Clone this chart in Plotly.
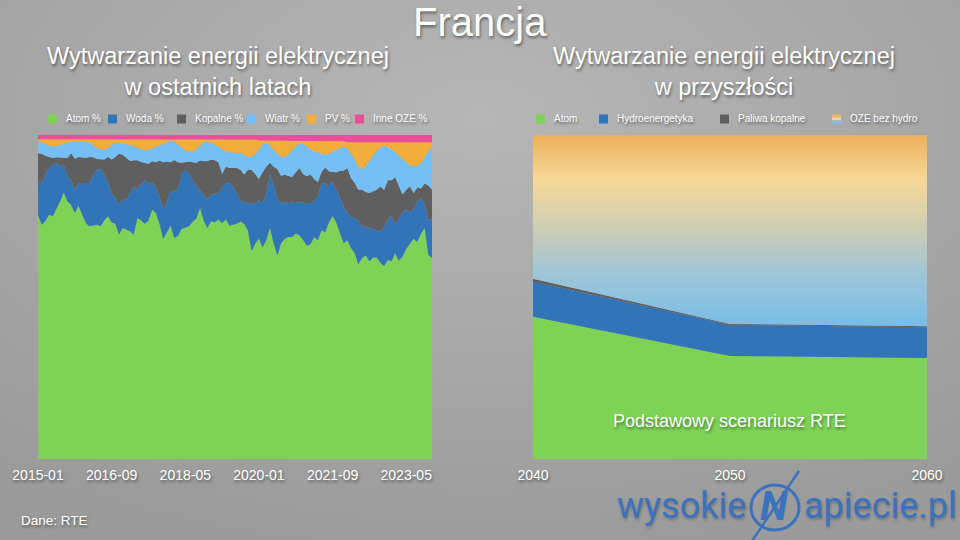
import base64
import pandas as pd
import plotly.graph_objects as go

# ---------------- data ----------------
months = list(pd.date_range("2015-01-01", periods=108, freq="MS").strftime("%Y-%m"))
tick_labels = ["2015-01", "2016-09", "2018-05", "2020-01", "2021-09", "2023-05"]

atom = [75.4, 72.3, 73.4, 75.4, 74.9, 77.0, 79.5, 82.3, 79.5, 78.5, 75.9, 78.2,
        75.4, 72.8, 71.8, 72.0, 72.3, 71.8, 73.6, 74.9, 73.0, 72.6, 69.2, 71.3,
        70.8, 70.3, 69.2, 74.4, 73.6, 72.6, 73.5, 76.9, 75.9, 72.5, 67.9, 69.8,
        72.0, 68.2, 68.8, 71.0, 71.5, 71.8, 73.2, 74.2, 77.5, 73.5, 71.3, 73.4,
        73.0, 73.9, 72.8, 73.9, 72.0, 72.3, 72.6, 73.3, 72.5, 70.5, 64.1, 66.5,
        68.0, 65.3, 67.5, 71.3, 66.5, 62.8, 66.5, 67.9, 68.5, 68.5, 69.6, 69.0,
        67.6, 65.8, 66.3, 68.5, 67.5, 70.5, 70.0, 73.0, 75.0, 73.0, 69.5, 66.5,
        67.5, 65.1, 63.6, 60.0, 62.0, 62.8, 61.0, 62.2, 62.2, 60.6, 59.5, 61.4,
        61.0, 63.5, 61.2, 62.5, 64.8, 66.5, 68.0, 67.0, 69.5, 71.3, 63.0, 62.0]
woda = [10.8, 12.4, 14.4, 14.4, 15.9, 14.4, 10.8, 8.5, 7.7, 7.7, 7.2, 7.0,
        9.3, 12.4, 13.4, 15.8, 17.0, 17.7, 14.2, 10.5, 9.1, 8.0, 9.3, 8.7,
        9.2, 11.8, 15.0, 8.7, 11.3, 13.4, 11.5, 8.6, 7.9, 8.5, 9.4, 9.4,
        10.9, 14.2, 14.7, 17.0, 17.8, 16.4, 12.8, 10.0, 5.5, 8.1, 8.7, 8.2,
        9.0, 8.0, 11.2, 11.3, 13.0, 11.7, 9.4, 6.2, 7.2, 8.1, 14.9, 12.1,
        12.0, 13.5, 14.5, 16.5, 18.0, 17.2, 12.5, 11.6, 10.3, 11.0, 9.4, 10.3,
        11.6, 12.8, 12.7, 11.0, 13.5, 14.7, 15.0, 11.2, 10.7, 10.0, 11.3, 11.5,
        8.6, 9.6, 10.8, 13.6, 10.0, 8.7, 10.3, 8.7, 8.3, 9.5, 12.1, 12.4,
        14.2, 9.0, 12.8, 13.5, 12.4, 9.5, 9.3, 12.3, 11.1, 7.5, 10.8, 12.0]
kopalne = [8.2, 9.5, 5.8, 3.4, 2.1, 1.7, 2.7, 2.1, 5.7, 8.2, 9.6, 8.0,
           8.3, 7.8, 8.0, 5.3, 3.3, 2.9, 4.6, 7.8, 10.3, 12.6, 15.7, 13.9,
           12.9, 9.9, 8.0, 9.1, 6.8, 5.3, 6.1, 6.4, 7.8, 11.1, 14.3, 12.6,
           8.7, 9.9, 8.1, 3.4, 2.2, 3.6, 5.6, 7.2, 9.1, 10.3, 12.0, 10.8,
           10.2, 9.7, 4.0, 5.1, 4.8, 5.8, 7.8, 9.8, 8.1, 10.7, 10.2, 9.4,
           6.4, 9.7, 8.3, 3.6, 5.7, 9.5, 8.4, 8.2, 8.6, 7.5, 9.5, 10.5,
           8.8, 8.7, 8.8, 6.9, 4.4, 3.4, 5.0, 4.6, 2.9, 5.5, 8.2, 11.0,
           13.7, 12.0, 10.9, 9.5, 11.1, 10.9, 10.8, 11.8, 12.6, 14.1, 11.4, 12.2,
           10.8, 14.5, 10.0, 5.6, 5.9, 8.2, 4.8, 4.5, 2.9, 6.2, 10.6, 9.1]
wiatr = [3.9, 3.4, 3.6, 3.5, 3.5, 3.5, 4.0, 4.4, 4.8, 3.6, 5.3, 4.8,
         5.0, 4.9, 4.3, 3.8, 3.4, 3.2, 3.1, 2.7, 4.4, 4.4, 3.5, 3.6,
         4.3, 4.8, 4.5, 3.8, 3.9, 4.0, 4.3, 3.9, 4.8, 4.7, 5.7, 6.0,
         6.6, 5.7, 5.4, 4.8, 3.7, 3.0, 3.2, 4.1, 4.5, 5.9, 6.0, 5.3,
         4.8, 4.7, 7.6, 4.7, 5.0, 4.8, 4.6, 5.3, 6.0, 4.0, 4.2, 6.0,
         9.4, 8.7, 7.2, 5.4, 5.1, 4.8, 5.9, 5.4, 6.6, 8.3, 8.1, 7.6,
         9.2, 9.2, 7.7, 8.5, 9.1, 5.6, 3.9, 5.3, 6.3, 6.9, 7.0, 7.5,
         6.0, 7.5, 7.2, 6.9, 6.4, 8.0, 9.9, 11.1, 12.1, 11.9, 13.7, 10.3,
         9.6, 7.8, 9.6, 11.0, 8.4, 6.5, 8.3, 6.7, 7.8, 8.2, 10.6, 12.8]
pv = [0.4, 1.1, 1.5, 2.0, 2.3, 2.1, 1.7, 1.4, 1.0, 0.7, 0.7, 0.7,
      0.7, 0.8, 1.2, 1.8, 2.7, 3.1, 3.2, 2.8, 1.9, 1.1, 1.0, 1.2,
      1.5, 1.9, 2.0, 2.6, 3.0, 3.3, 3.2, 2.8, 2.2, 1.8, 1.3, 0.8,
      0.4, 0.6, 1.6, 2.4, 3.4, 3.8, 3.8, 3.1, 2.0, 0.8, 0.6, 0.9,
      1.6, 2.3, 3.0, 3.6, 3.8, 4.0, 4.2, 4.0, 4.8, 5.3, 5.2, 4.6,
      2.5, 1.1, 0.8, 1.5, 3.0, 4.0, 5.0, 5.2, 4.3, 3.0, 1.7, 0.9,
      1.1, 1.8, 2.8, 3.4, 3.8, 4.1, 4.4, 4.2, 3.4, 2.9, 2.1, 1.6,
      2.0, 3.6, 5.3, 7.8, 8.3, 7.4, 5.8, 4.0, 2.6, 1.7, 1.1, 1.5,
      2.2, 3.0, 4.2, 5.2, 6.3, 7.1, 7.4, 7.3, 6.5, 4.6, 2.8, 1.9]
inne_oze = [1.3] * 27 + [1.4] * 33 + [1.7] * 22 + [1.9] * 2 + [2.2] * 24

hist_names = ["Atom %", "Woda %", "Kopalne %", "Wiatr %", "PV %", "Inne OZE %"]
hist_series = [atom, woda, kopalne, wiatr, pv, inne_oze]
hist_colors = ["#7ed357", "#3274b8", "#5f5f5f", "#74bff6", "#f2ad3b", "#ea4f98"]

years = [2040, 2050, 2060]
atom_f = [43.9, 31.8, 31.2]
hydro_f = [10.8, 9.6, 9.5]
fossil_f = [0.9, 0.3, 0.3]
oze_f = [44.4, 58.3, 59.0]
fut_names = ["Atom", "Hydroenergetyka", "Paliwa kopalne", "OZE bez hydro"]
fut_series = [atom_f, hydro_f, fossil_f, oze_f]
fut_colors = ["#7ed357", "#3274b8", "#5f5f5f", "#9cc6dc"]
oze_scale = [[0.0, "#78bde9"], [0.29, "#a2c6d6"], [0.5, "#cbcdb6"],
             [0.77, "#f8d897"], [1.0, "#ebb05a"]]

# ---------------- helpers ----------------
W, H = 960, 540
def px(x):
    return x / W
def py(y):
    return 1 - y / H

SH = "1px 2px 3px rgba(0,0,0,0.45)"
FONT = "Liberation Sans, Arial, Helvetica, sans-serif"

fig = go.Figure()

for name, vals, col in zip(hist_names, hist_series, hist_colors):
    fig.add_trace(go.Scatter(
        x=months, y=vals, name=name, stackgroup="hist", mode="lines",
        line=dict(width=0, color=col), fillcolor=col, showlegend=False,
        hoverinfo="x+y+name", xaxis="x", yaxis="y"))

for name, vals, col in zip(fut_names, fut_series, fut_colors):
    kw = {}
    if name == "OZE bez hydro":
        kw["fillgradient"] = dict(type="vertical", colorscale=oze_scale, start=41, stop=100)
    else:
        kw["fillcolor"] = col
    fig.add_trace(go.Scatter(
        x=years, y=vals, name=name, stackgroup="future", mode="lines",
        line=dict(width=0, color=col), showlegend=False,
        hoverinfo="x+y+name", xaxis="x2", yaxis="y2", **kw))

tickfont = dict(family=FONT, size=14, color="white", shadow=SH)
fig.update_layout(
    width=W, height=H, autosize=False,
    margin=dict(l=0, r=0, t=0, b=0, autoexpand=False),
    paper_bgcolor="#a9a9a9", plot_bgcolor="rgba(0,0,0,0)",
    showlegend=False,
    font=dict(family=FONT, color="white"),
    xaxis=dict(domain=[px(38), px(432)], type="category", range=[0, 107],
               tickmode="array", tickvals=tick_labels, ticktext=tick_labels,
               showgrid=False, zeroline=False, showline=False, automargin=False,
               ticks="outside", ticklen=3, tickcolor="rgba(0,0,0,0)",
               tickfont=tickfont, anchor="y"),
    yaxis=dict(domain=[py(459), py(135)], range=[0, 100], visible=False,
               automargin=False, anchor="x"),
    xaxis2=dict(domain=[px(533), px(927)], range=[2040, 2060],
                tickmode="array", tickvals=years, ticktext=[str(y) for y in years],
                showgrid=False, zeroline=False, showline=False, automargin=False,
                ticks="outside", ticklen=3, tickcolor="rgba(0,0,0,0)",
                tickfont=tickfont, anchor="y2"),
    yaxis2=dict(domain=[py(459), py(135)], range=[0, 100], visible=False,
                automargin=False, anchor="x2"),
)

# background gradient
svg = ('<svg xmlns="http://www.w3.org/2000/svg" width="960" height="540">'
       '<defs><radialGradient id="g" cx="50%" cy="22%" r="80%">'
       '<stop offset="0" stop-color="#b6b6b6"/><stop offset="1" stop-color="#9b9b9b"/>'
       '</radialGradient></defs><rect width="960" height="540" fill="url(#g)"/></svg>')
fig.add_layout_image(dict(
    source="data:image/svg+xml;base64," + base64.b64encode(svg.encode()).decode(),
    xref="paper", yref="paper", x=0, y=1, sizex=1, sizey=1,
    sizing="stretch", layer="below", xanchor="left", yanchor="top"))

ann = []
def text(t, x, y, size, xanchor="center", color="white", family=FONT, shadow=SH):
    ann.append(dict(text=t, x=px(x), y=py(y), xref="paper", yref="paper",
                    xanchor=xanchor, yanchor="middle", showarrow=False,
                    font=dict(family=family, size=size, color=color, shadow=shadow)))

text("Francja", 480, 22, 40)
text("Wytwarzanie energii elektrycznej<br>w ostatnich latach", 218, 71, 23.5)
text("Wytwarzanie energii elektrycznej<br>w przyszłości", 724, 71, 23.5)
text("Podstawowy scenariusz RTE", 729, 421, 18)
text("Dane: RTE", 19, 520, 13.5, xanchor="left")

# manual legends
shapes = []
left_sw = [48, 108, 177, 247, 307, 355]
for name, col, x0 in zip(hist_names, hist_colors, left_sw):
    shapes.append(dict(type="rect", xref="paper", yref="paper", x0=px(x0), x1=px(x0 + 9),
                       y0=py(123.5), y1=py(114.5), fillcolor=col, line=dict(width=0)))
    text(name, x0 + 16, 118.5, 10, xanchor="left")

right_sw = [536, 599, 720, 832]
for name, col, x0 in zip(fut_names, fut_colors, right_sw):
    if name == "OZE bez hydro":
        for (ya, yb), c in zip([(114.5, 117.5), (117.5, 120.5), (120.5, 123.5)],
                               ["#efb564", "#f5d69a", "#86bfe3"]):
            shapes.append(dict(type="rect", xref="paper", yref="paper", x0=px(x0), x1=px(x0 + 9),
                               y0=py(yb), y1=py(ya), fillcolor=c, line=dict(width=0)))
    else:
        shapes.append(dict(type="rect", xref="paper", yref="paper", x0=px(x0), x1=px(x0 + 9),
                           y0=py(123.5), y1=py(114.5), fillcolor=col, line=dict(width=0)))
    text(name, x0 + 16, 118.5, 10, xanchor="left")

# logo
BLUE = "#3a72bd"
LOGO_SH = "1px 2px 3px rgba(0,0,0,0.25)"
text("wysokie", 748, 506, 36, xanchor="right", color=BLUE, family="Roboto", shadow=LOGO_SH)
text("apiecie.pl", 802, 506, 36, xanchor="left", color=BLUE, family="Roboto", shadow=LOGO_SH)
text("<b><i>N</i></b>", 774, 506, 40, color=BLUE, family="Roboto", shadow="none")
shapes.append(dict(type="circle", xref="paper", yref="paper", x0=px(751), x1=px(799),
                   y0=py(530), y1=py(485), line=dict(color=BLUE, width=3)))
shapes.append(dict(type="line", xref="paper", yref="paper", x0=px(799), x1=px(752),
                   y0=py(471), y1=py(541), line=dict(color=BLUE, width=2.5)))

fig.update_layout(annotations=ann, shapes=shapes)
fig.write_html("out.html")
